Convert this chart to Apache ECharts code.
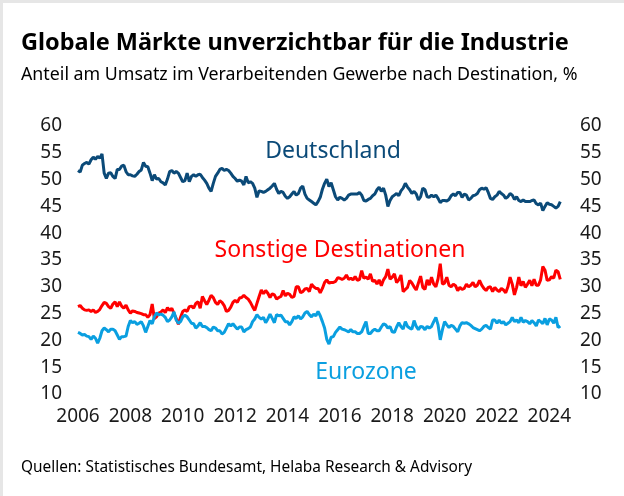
<!DOCTYPE html>
<html><head><meta charset="utf-8">
<script src="https://cdn.jsdelivr.net/npm/echarts@6/dist/echarts.min.js"></script>
<style>
html,body{margin:0;padding:0;background:#fff}
#chart{position:absolute;left:0;top:0;width:624px;height:496px}
#frame{position:absolute;left:0;top:0;width:624px;height:496px;box-sizing:border-box;border-top:3px solid #e6e6e6;border-left:3px solid #e6e6e6;pointer-events:none}
</style></head>
<body><div id="chart"></div><div id="frame"></div>
<script>
// Monthly data, starting January 2006
const startYear = 2006;
const yearTicks = [2006, 2008, 2010, 2012, 2014, 2016, 2018, 2020, 2022, 2024];
const deutschland = [
51.7,51.4,52.7,53.0,53.2,52.9,53.7,54.2,53.8,54.3,54.0,54.8,51.2,50.2,51.2,51.3,50.6,50.2,51.9,51.9,52.5,52.7,51.5,50.9,
50.9,50.7,50.6,51.0,51.5,51.8,53.2,52.5,52.4,51.2,49.8,50.9,50.1,50.2,49.6,49.4,49.0,50.1,51.5,51.7,51.2,51.5,51.2,50.4,
49.6,49.8,51.2,49.6,50.6,50.9,50.6,50.9,51.0,50.4,49.9,49.3,48.4,47.8,49.3,50.6,51.2,51.9,52.1,51.7,51.9,51.7,51.2,50.6,
50.2,49.7,49.9,49.7,49.0,50.6,49.4,49.6,49.3,48.4,46.7,47.9,47.8,47.6,47.8,48.1,48.4,48.8,49.3,48.2,47.4,47.8,47.6,46.9,
46.5,46.8,47.3,47.8,47.1,47.4,48.4,48.8,47.3,46.5,46.2,45.9,45.6,45.3,45.9,46.7,48.2,49.3,50.1,48.7,49.4,48.1,46.8,46.2,
46.7,46.5,46.2,46.5,47.1,47.3,47.3,47.3,47.3,47.6,47.1,46.1,46.0,46.3,46.5,47.0,47.3,48.1,48.6,47.8,48.4,47.1,45.0,46.1,
46.8,47.1,47.4,47.0,47.9,48.4,49.3,48.6,48.1,47.4,47.8,47.3,46.2,46.8,48.4,48.1,46.8,46.7,47.1,46.8,47.1,46.5,45.7,46.1,
46.1,46.0,46.3,47.0,47.3,47.0,47.6,47.6,46.7,47.3,47.1,46.2,46.5,47.0,47.1,47.4,48.1,48.4,48.2,48.5,47.6,46.5,46.3,46.8,
47.1,47.8,47.4,47.1,46.5,46.8,47.4,47.1,46.3,46.8,46.1,45.9,46.2,45.9,45.9,45.9,46.1,46.2,45.5,45.3,45.6,44.2,45.0,45.7,
45.4,45.3,45.0,44.7,45.0,45.9
];
const sonstige = [
26.3,26.5,26.0,25.7,25.6,25.7,25.4,25.7,25.2,25.4,25.8,26.5,27.1,26.9,26.3,26.0,26.8,27.2,26.3,27.2,26.4,26.0,26.6,25.7,
25.1,25.5,25.4,25.2,25.1,25.0,24.8,24.8,24.3,24.8,26.8,24.1,24.4,25.1,25.3,25.7,25.2,26.1,25.6,26.0,25.0,24.1,23.0,24.3,
25.4,25.7,25.4,26.3,26.4,26.0,26.9,27.2,26.0,28.2,27.4,26.7,27.5,28.4,28.0,27.1,26.7,27.4,27.1,26.5,25.4,25.6,26.2,27.1,
27.5,27.1,27.9,28.0,28.4,28.0,27.7,27.1,26.3,25.6,26.9,28.2,29.4,28.7,29.3,28.8,28.0,28.7,28.5,27.7,28.0,28.2,29.3,28.3,
28.8,28.6,28.0,28.2,30.0,30.0,28.9,29.1,29.6,29.7,29.1,30.5,30.0,29.7,29.7,28.9,29.7,30.8,31.3,30.7,30.8,30.8,31.0,31.7,
31.6,31.4,31.6,32.2,31.4,31.6,31.3,31.9,31.2,31.4,33.0,31.6,31.8,31.4,32.4,31.0,31.2,30.5,31.3,30.2,31.3,31.9,33.3,31.4,
31.8,32.4,30.8,31.3,32.2,29.1,29.5,29.9,31.2,30.7,30.0,29.4,30.7,32.0,29.9,29.5,31.3,30.3,31.8,30.5,30.0,31.5,34.3,30.5,
30.7,31.8,30.3,30.0,30.5,30.2,29.3,29.9,29.5,29.7,30.5,30.0,30.3,30.8,30.0,30.3,31.2,30.3,29.7,29.3,29.9,30.0,29.1,29.9,
29.4,29.1,29.7,29.4,28.9,30.0,31.8,30.5,28.5,29.9,31.8,30.2,31.0,29.9,30.5,31.2,30.2,31.4,30.3,30.3,31.3,33.8,33.1,31.2,
31.3,31.9,31.6,33.1,32.8,31.4
];
const eurozone = [
21.5,21.3,21.0,21.1,20.8,20.7,20.2,20.8,20.4,19.5,20.4,21.8,22.3,22.0,21.6,22.1,22.1,21.8,21.0,20.2,20.7,20.7,20.8,22.6,
23.7,23.3,23.5,23.0,23.2,23.5,22.7,21.5,22.6,23.7,23.1,24.4,25.1,24.8,24.9,24.7,24.3,23.5,23.8,24.4,25.3,23.8,23.2,23.5,
24.4,24.7,24.4,23.8,23.2,23.1,22.3,22.7,23.3,22.6,22.6,22.4,22.0,21.8,22.5,22.3,21.8,21.8,21.2,21.5,22.3,23.1,22.7,23.1,
22.6,22.1,22.5,22.5,21.6,22.0,22.2,22.5,23.5,24.0,24.8,24.3,24.0,24.3,23.3,24.0,24.9,24.1,23.3,24.8,24.6,24.7,24.1,23.5,
23.5,22.9,23.5,24.4,24.1,24.6,24.0,24.4,25.1,25.4,24.8,24.4,24.9,24.6,25.4,24.6,23.5,22.3,20.2,19.3,20.6,20.7,21.5,22.0,
22.5,22.1,22.0,21.8,21.6,22.0,21.6,21.6,21.3,21.3,21.6,22.6,23.5,21.3,21.3,21.8,22.1,21.8,21.8,22.5,23.1,22.9,22.3,22.6,
21.6,21.5,22.5,23.3,22.6,22.1,23.5,22.6,22.3,22.1,23.7,22.6,22.0,22.6,22.5,22.0,22.6,22.3,22.6,23.5,24.3,22.9,20.1,22.0,
23.5,22.9,22.4,22.8,22.6,22.1,21.6,22.7,23.3,23.2,23.3,23.1,22.8,22.4,22.2,22.0,21.8,22.1,22.6,22.8,22.4,22.1,23.8,23.8,
23.2,23.8,23.2,23.5,22.9,23.2,23.5,24.3,23.5,23.8,23.3,24.3,23.4,23.7,23.5,23.1,23.7,23.3,22.7,23.8,23.5,23.1,24.1,22.9,
24.0,23.8,23.2,24.3,22.4,22.7
];

const FONT = '"Noto Sans", "DejaVu Sans", sans-serif';
const toPairs = arr => arr.map((v, i) => [startYear + i / 12, v]);

const chart = echarts.init(document.getElementById('chart'), null, {renderer: 'canvas'});
const yAxisBase = {
  type: 'value', min: 10, max: 60, interval: 5,
  axisLine: {show: false}, axisTick: {show: false}, splitLine: {show: false},
  axisLabel: {color: '#1a1a1a', fontSize: 19, fontFamily: FONT}
};
chart.setOption({
  animation: false,
  backgroundColor: '#fff',
  grid: {left: 78, right: 55, top: 126, bottom: 102, containLabel: false},
  xAxis: {
    type: 'value', min: 2006, max: 2024.75, interval: 2,
    axisLine: {show: false}, axisTick: {show: false}, splitLine: {show: false},
    axisLabel: {
      color: '#1a1a1a', fontSize: 19, fontFamily: FONT, margin: 13,
      showMaxLabel: false,
      formatter: v => yearTicks.includes(Math.round(v)) && Math.abs(v - Math.round(v)) < 1e-6 ? String(Math.round(v)) : ''
    }
  },
  yAxis: [
    Object.assign({}, yAxisBase, {position: 'left', axisLabel: Object.assign({}, yAxisBase.axisLabel, {margin: 16})}),
    Object.assign({}, yAxisBase, {position: 'right', axisLabel: Object.assign({}, yAxisBase.axisLabel, {margin: 11})})
  ],
  series: [
    {name: 'Deutschland', type: 'line', data: toPairs(deutschland), showSymbol: false,
     lineStyle: {color: '#0b4a78', width: 3}, itemStyle: {color: '#0b4a78'}},
    {name: 'Sonstige Destinationen', type: 'line', data: toPairs(sonstige), showSymbol: false,
     lineStyle: {color: '#ff0000', width: 3}, itemStyle: {color: '#ff0000'}},
    {name: 'Eurozone', type: 'line', data: toPairs(eurozone), showSymbol: false,
     lineStyle: {color: '#0a9fe0', width: 3}, itemStyle: {color: '#0a9fe0'}}
  ],
  graphic: [
    {type: 'text', x: 21, y: 43, style: {text: 'Globale Märkte unverzichtbar für die Industrie',
      font: 'bold 23.5px ' + FONT, fill: '#000', textAlign: 'left', textVerticalAlign: 'middle'}},
    {type: 'text', x: 21, y: 75, style: {text: 'Anteil am Umsatz im Verarbeitenden Gewerbe nach Destination, %',
      font: '17.8px ' + FONT, fill: '#000', textAlign: 'left', textVerticalAlign: 'middle'}},
    {type: 'text', x: 333, y: 151, style: {text: 'Deutschland',
      font: '23px ' + FONT, fill: '#0b4a78', textAlign: 'center', textVerticalAlign: 'middle'}},
    {type: 'text', x: 340, y: 250, style: {text: 'Sonstige Destinationen',
      font: '23px ' + FONT, fill: '#ff0000', textAlign: 'center', textVerticalAlign: 'middle'}},
    {type: 'text', x: 366, y: 372, style: {text: 'Eurozone',
      font: '23px ' + FONT, fill: '#0a9fe0', textAlign: 'center', textVerticalAlign: 'middle'}},
    {type: 'text', x: 21, y: 468, style: {text: 'Quellen: Statistisches Bundesamt, Helaba Research & Advisory',
      font: '15.4px ' + FONT, fill: '#000', textAlign: 'left', textVerticalAlign: 'middle'}}
  ]
});
</script>
</body></html>
